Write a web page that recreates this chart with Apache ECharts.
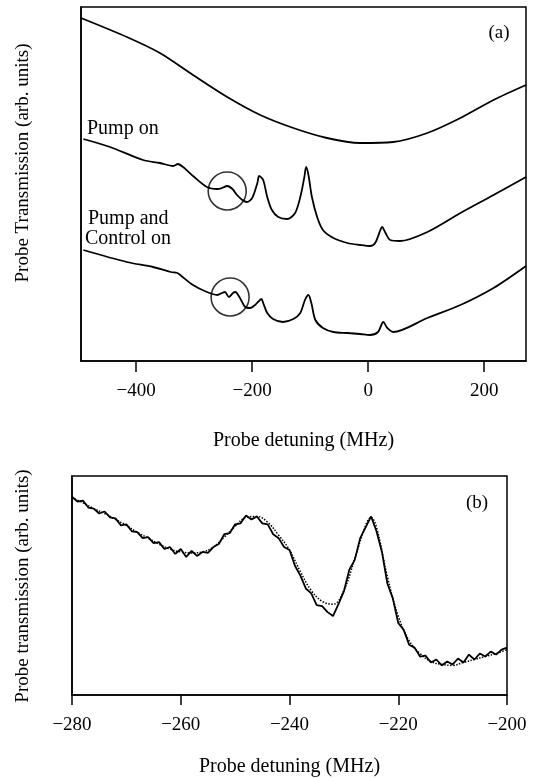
<!DOCTYPE html>
<html><head><meta charset="utf-8">
<script src="https://cdn.jsdelivr.net/npm/echarts@6/dist/echarts.min.js"></script>
<style>html,body{margin:0;padding:0;background:#fff}#c{width:536px;height:778px}</style>
</head><body><div id="c"></div>
<script>
// ---------- Panel (a) ----------
const topTicks = [-400, -200, 0, 200];
const pumpOffX = [-495,-416,-359,-302,-243,-186,-129,-71,-14,43,102,159,216,272];
const pumpOffV = [343,324,308,286,264,246,233,223,218,219,228,243,261,276];

const pumpOnX = [-491,-445,-388,-359,-336,-328,-319,-302,-278,-260,-252,-243,-234,-226,-217,-209,-200,-191,-188,-181,-174,-166,-155,-140,-126,-117,-110,-107,-103,-97,-88,-78,-60,-36,-14,3,12,21,24,29,38,55,102,159,216,272];
const pumpOnV = [222,214,201,198,195,197,194,185,174,172,173,175,172,166,161,159,163,178,185,181,164,151,144,142,148,164,184,194,186,164,144,131,123,118,116,115,118,131,134,129,121,120,129,148,166,184];

const ctrlOnX = [-491,-416,-371,-340,-329,-324,-302,-278,-260,-252,-247,-240,-233,-229,-221,-212,-203,-195,-190,-184,-181,-174,-164,-147,-129,-117,-109,-103,-98,-91,-78,-60,-36,-14,3,17,26,33,43,102,159,216,272];
const ctrlOnV = [111,99,94,89,88,86,76,69,66,68,69,64,68,69,63,54,53,56,59,62,58,48,42,39,42,48,61,66,58,41,33,29,28,27,26,29,39,33,29,43,56,73,95];

const circleX = [-243, -238];
const circleV = [170, 64];

// ---------- Panel (b) ----------
const bTicks = [-280, -260, -240, -220, -200];
const expX = [-280,-279,-278,-277,-276,-275,-274,-273,-272,-271,-270,-269,-268,-267,-266,-265,-264,-263,-262,-261,-260,-259,-258,-257,-256,-255,-254,-253,-252,-251,-250,-249,-248,-247,-246,-245,-244,-243,-242,-241,-240,-239,-238,-237,-236,-235,-234,-233,-232,-231,-230,-229,-228,-227,-226,-225,-224,-223,-222,-221,-220,-219,-218,-217,-216,-215,-214,-213,-212,-211,-210,-209,-208,-207,-206,-205,-204,-203,-202,-201,-200];
const expV = [201,196,197,190,189,184,186,180,179,172,173,166,165,159,160,154,155,148,150,143,148,140,146,141,145,144,150,153,163,164,173,174,182,178,181,174,173,163,159,150,147,131,121,108,103,91,90,84,80,92,105,127,137,159,170,181,166,145,113,98,73,66,51,48,39,40,33,36,30,34,31,37,33,41,36,42,39,44,41,46,48];
const theoX = [-280,-278,-276,-274,-272,-270,-268,-266,-264,-262,-260,-258,-256,-254,-252,-250,-248,-246,-244,-242,-240,-238,-236,-234,-232,-230,-228,-226,-225,-224,-222,-220,-218,-216,-214,-212,-210,-208,-206,-204,-202,-200];
const theoV = [200,195,189,184,178,172,165,159,153,148,145,144,145,150,160,171,180,181,175,162,147,125,106,95,92,106,138,172,180,170,120,80,55,42,34,31,30,33,36,39,42,46];

const zip = (xs, vs) => xs.map((x, i) => [x, vs[i]]);
const FONT = 'Liberation Serif';
const minus = v => String(v).replace('-', '\u2212');

const chart = echarts.init(document.getElementById('c'), null, {renderer: 'canvas'});
const frame = {show: true, borderColor: '#000', borderWidth: 1.5, backgroundColor: 'transparent'};
const axLine = {show: true, onZero: false, lineStyle: {color: '#000', width: 1.5}};

chart.setOption({
  animation: false,
  backgroundColor: '#fff',
  grid: [
    Object.assign({left: 81, top: 7, width: 445, height: 354}, frame),
    Object.assign({left: 72, top: 476, width: 435, height: 222}, frame)
  ],
  xAxis: [
    {type: 'value', gridIndex: 0, min: -495, max: 272,
     axisLine: axLine,
     axisTick: {show: true, inside: false, length: 11, customValues: topTicks, lineStyle: {color: '#000', width: 1.5}},
     axisLabel: {customValues: topTicks, formatter: minus, fontFamily: FONT, fontSize: 19, color: '#000', margin: 21},
     splitLine: {show: false},
     name: 'Probe detuning (MHz)', nameLocation: 'middle', nameGap: 70,
     nameTextStyle: {fontFamily: FONT, fontSize: 20, color: '#000'}},
    {type: 'value', gridIndex: 1, min: -280, max: -200, interval: 20,
     axisLine: axLine,
     axisTick: {show: true, inside: false, length: 10, lineStyle: {color: '#000', width: 1.5}},
     axisLabel: {formatter: minus, fontFamily: FONT, fontSize: 19, color: '#000', margin: 21, showMinLabel: true, showMaxLabel: true},
     splitLine: {show: false},
     name: 'Probe detuning (MHz)', nameLocation: 'middle', nameGap: 62,
     nameTextStyle: {fontFamily: FONT, fontSize: 20, color: '#000'}}
  ],
  yAxis: [
    {type: 'value', gridIndex: 0, min: 0, max: 354, axisLine: axLine, axisTick: {show: false}, axisLabel: {show: false}, splitLine: {show: false}},
    {type: 'value', gridIndex: 1, min: 0, max: 222, axisLine: axLine, axisTick: {show: false}, axisLabel: {show: false}, splitLine: {show: false}}
  ],
  series: [
    {type: 'line', xAxisIndex: 0, yAxisIndex: 0, data: zip(pumpOffX, pumpOffV), smooth: 0.3, showSymbol: false, lineStyle: {color: '#000', width: 1.8}},
    {type: 'line', xAxisIndex: 0, yAxisIndex: 0, data: zip(pumpOnX, pumpOnV), smooth: 0.3, showSymbol: false, lineStyle: {color: '#000', width: 1.8}},
    {type: 'line', xAxisIndex: 0, yAxisIndex: 0, data: zip(ctrlOnX, ctrlOnV), smooth: 0.3, showSymbol: false, lineStyle: {color: '#000', width: 1.8}},
    {type: 'scatter', xAxisIndex: 0, yAxisIndex: 0, data: zip(circleX, circleV), symbol: 'circle', symbolSize: 38,
     itemStyle: {color: 'rgba(0,0,0,0)', borderColor: '#000', borderWidth: 1.6}},
    {type: 'line', xAxisIndex: 1, yAxisIndex: 1, data: zip(theoX, theoV), smooth: 0.4, showSymbol: false, lineStyle: {color: '#000', width: 1.5, type: 'dotted'}},
    {type: 'line', xAxisIndex: 1, yAxisIndex: 1, data: zip(expX, expV), smooth: false, showSymbol: false, lineStyle: {color: '#000', width: 1.8}}
  ],
  graphic: [
    {type: 'text', x: 23, y: 163, rotation: Math.PI / 2,
     style: {text: 'Probe Transmission (arb. units)', fontFamily: FONT, fontSize: 19, fill: '#000', align: 'center', verticalAlign: 'middle', textAlign: 'center', textVerticalAlign: 'middle'}},
    {type: 'text', x: 23, y: 586, rotation: Math.PI / 2,
     style: {text: 'Probe transmission (arb. units)', fontFamily: FONT, fontSize: 19, fill: '#000', align: 'center', verticalAlign: 'middle', textAlign: 'center', textVerticalAlign: 'middle'}},
    {type: 'text', x: 499, y: 33,
     style: {text: '(a)', fontFamily: FONT, fontSize: 19, fill: '#000', align: 'center', verticalAlign: 'middle', textAlign: 'center', textVerticalAlign: 'middle'}},
    {type: 'text', x: 477, y: 503,
     style: {text: '(b)', fontFamily: FONT, fontSize: 19, fill: '#000', align: 'center', verticalAlign: 'middle', textAlign: 'center', textVerticalAlign: 'middle'}},
    {type: 'text', x: 87, y: 129,
     style: {text: 'Pump on', fontFamily: FONT, fontSize: 20, fill: '#000', align: 'left', verticalAlign: 'middle', textAlign: 'left', textVerticalAlign: 'middle'}},
    {type: 'text', x: 88, y: 219,
     style: {text: 'Pump and', fontFamily: FONT, fontSize: 20, fill: '#000', align: 'left', verticalAlign: 'middle', textAlign: 'left', textVerticalAlign: 'middle'}},
    {type: 'text', x: 85, y: 239,
     style: {text: 'Control on', fontFamily: FONT, fontSize: 20, fill: '#000', align: 'left', verticalAlign: 'middle', textAlign: 'left', textVerticalAlign: 'middle'}}
  ]
});
</script>
</body></html>
